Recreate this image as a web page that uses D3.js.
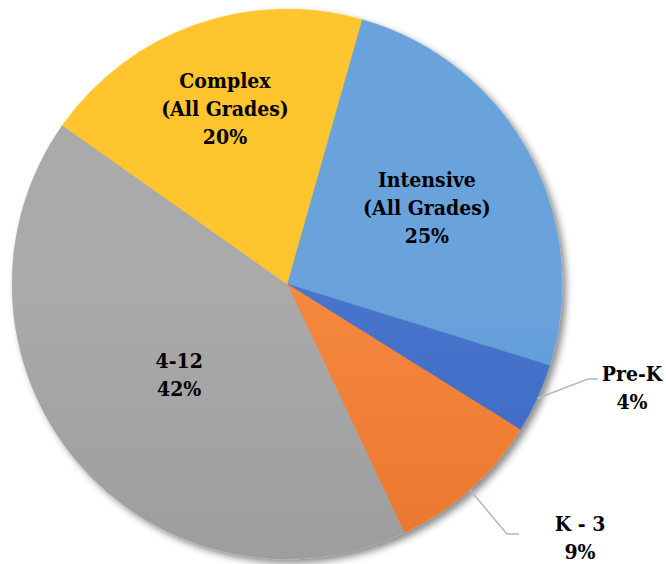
<!DOCTYPE html>
<html>
<head>
<meta charset="utf-8">
<script src="https://cdn.jsdelivr.net/npm/d3@7"></script>
<style>
  body { margin: 0; background: #fff; }
  svg text { font-family: "DejaVu Serif Condensed", "DejaVu Serif", serif; font-weight: bold; fill: #000; }
</style>
</head>
<body>
<svg id="chart" width="666" height="564"></svg>
<script>
// slice data, clockwise from the top
const categories = ["Intensive\n(All Grades)", "Pre-K", "K - 3", "4-12", "Complex\n(All Grades)"];
const values = [25.4, 4.1, 9.1, 41.8, 19.6];
const colorsTop = ["#6aa3dc", "#4874cc", "#f5873f", "#aaaaaa", "#ffc52e"];
const colorsBottom = ["#3a80c7", "#2c5ab5", "#df661a", "#909090", "#ecaf00"];

const width = 666, height = 564;
const cx = 287, cy = 284, radius = 275;

const svg = d3.select("#chart");
const defs = svg.append("defs");

// soft drop shadow like the office chart
const shadow = defs.append("filter").attr("id", "shadow")
  .attr("x", "-10%").attr("y", "-10%").attr("width", "120%").attr("height", "120%");
shadow.append("feDropShadow")
  .attr("dx", 4).attr("dy", 4).attr("stdDeviation", 3.5)
  .attr("flood-color", "#000").attr("flood-opacity", 0.45);

// vertical gradient per slice (light on top, darker at the bottom)
categories.forEach((c, i) => {
  const g = defs.append("linearGradient").attr("id", "grad" + i)
    .attr("gradientUnits", "userSpaceOnUse")
    .attr("x1", 0).attr("y1", cy - radius).attr("x2", 0).attr("y2", cy + radius);
  g.append("stop").attr("offset", "0%").attr("stop-color", colorsTop[i]);
  g.append("stop").attr("offset", "100%").attr("stop-color", colorsBottom[i]);
});

const startAngle = 15.8 * Math.PI / 180;
const pie = d3.pie().sort(null).value(d => d)
  .startAngle(startAngle).endAngle(startAngle + 2 * Math.PI);
const arcs = pie(values);
const arc = d3.arc().innerRadius(0).outerRadius(radius);

const g = svg.append("g").attr("transform", `translate(${cx},${cy})`);

g.append("g").attr("filter", "url(#shadow)")
  .selectAll("path").data(arcs).join("path")
  .attr("d", arc)
  .attr("fill", (d, i) => `url(#grad${i})`)
  .attr("stroke", (d, i) => `url(#grad${i})`)
  .attr("stroke-width", 0.5);

// label placement: inside labels sit on a radius, small slices go outside with leaders
const inside = { 0: [143, -70], 3: [-109, 89], 4: [-47, -180] };
const outside = {
  1: { elbow: [301, 95], end: [311, 95], text: [345, 104] },
  2: { elbow: [220, 250], end: [232, 250], text: [293, 254] }
};
const lineH = 28;

arcs.forEach((d, i) => {
  const mid = (d.startAngle + d.endAngle) / 2;
  const lines = categories[i].split("\n").concat([Math.round(values[i]) + "%"]);
  let tx, ty;
  if (inside[i] !== undefined) {
    // offset along the slice bisector, as the office layout does
    const r = Math.hypot(inside[i][0], inside[i][1]);
    tx = r * Math.sin(mid);
    ty = -r * Math.cos(mid);
  } else {
    const o = outside[i];
    const p = [radius * Math.sin(mid), -radius * Math.cos(mid)];
    g.append("polyline")
      .attr("points", [p, o.elbow, o.end].map(q => q.join(",")).join(" "))
      .attr("fill", "none").attr("stroke", "#adb9ca").attr("stroke-width", 1.5);
    tx = o.text[0];
    ty = o.text[1];
  }
  const t = g.append("text").attr("text-anchor", "middle").attr("font-size", 21);
  const y0 = ty - (lines.length - 1) * lineH / 2;
  lines.forEach((s, k) => {
    t.append("tspan").attr("x", tx).attr("y", y0 + k * lineH).attr("dy", "0.35em").text(s);
  });
});
</script>
</body>
</html>
